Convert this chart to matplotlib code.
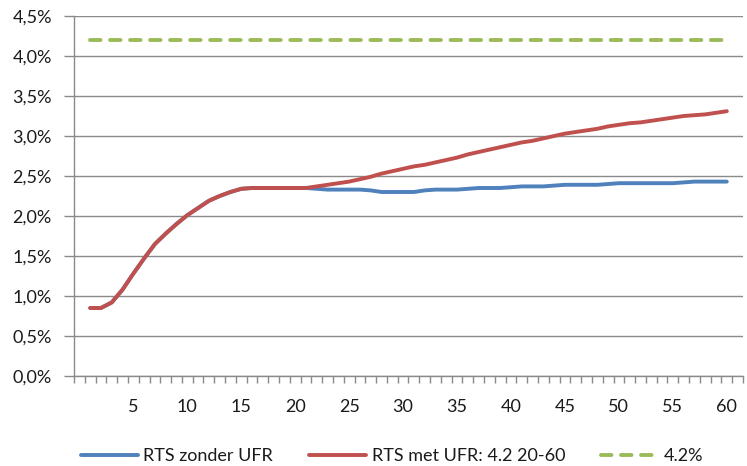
import matplotlib
matplotlib.use("Agg")
import matplotlib.pyplot as plt
from matplotlib.ticker import FuncFormatter, MultipleLocator, FixedLocator

categories = list(range(1, 61))
rts_zonder_ufr = [0.85, 0.85, 0.92, 1.08, 1.28, 1.47, 1.65, 1.78, 1.90, 2.01,
                  2.10, 2.19, 2.25, 2.30, 2.34, 2.35, 2.35, 2.35, 2.35, 2.35,
                  2.35, 2.34, 2.33, 2.33, 2.33, 2.33, 2.32, 2.30, 2.30, 2.30,
                  2.30, 2.32, 2.33, 2.33, 2.33, 2.34, 2.35, 2.35, 2.35, 2.36,
                  2.37, 2.37, 2.37, 2.38, 2.39, 2.39, 2.39, 2.39, 2.40, 2.41,
                  2.41, 2.41, 2.41, 2.41, 2.41, 2.42, 2.43, 2.43, 2.43, 2.43]
rts_met_ufr = [0.85, 0.85, 0.92, 1.08, 1.28, 1.47, 1.65, 1.78, 1.90, 2.01,
               2.10, 2.19, 2.25, 2.30, 2.34, 2.35, 2.35, 2.35, 2.35, 2.35,
               2.35, 2.37, 2.39, 2.41, 2.43, 2.46, 2.49, 2.53, 2.56, 2.59,
               2.62, 2.64, 2.67, 2.70, 2.73, 2.77, 2.80, 2.83, 2.86, 2.89,
               2.92, 2.94, 2.97, 3.00, 3.03, 3.05, 3.07, 3.09, 3.12, 3.14,
               3.16, 3.17, 3.19, 3.21, 3.23, 3.25, 3.26, 3.27, 3.29, 3.31]
ufr_level = [4.2] * 60
x_tick_labels = [5, 10, 15, 20, 25, 30, 35, 40, 45, 50, 55, 60]
series_names = ["RTS zonder UFR", "RTS met UFR: 4.2 20-60", "4.2%"]

plt.rcParams['font.family'] = ['Lato', 'DejaVu Sans']

FS = 13
TXT = '#1a1a1a'
AXC = '#8a8a8a'

fig = plt.figure(figsize=(7.47, 4.66), dpi=100)
ax = fig.add_axes([74/747, 1 - 376/466, (743 - 74)/747, (376 - 16)/466])

ax.plot(categories, rts_zonder_ufr, color='#4F81BD', lw=2.8, solid_capstyle='round', label=series_names[0])
ax.plot(categories, rts_met_ufr, color='#C0504D', lw=2.8, solid_capstyle='round', label=series_names[1])
ax.plot(categories, ufr_level, color='#9BBB59', lw=2.8, dashes=(2.7, 2.45), dash_capstyle='round', label=series_names[2])

ax.set_xlim(-0.5, 61.5)
ax.set_ylim(0, 4.5)
ax.yaxis.set_major_locator(MultipleLocator(0.5))
ax.yaxis.set_major_formatter(FuncFormatter(lambda v, p: f"{v:.1f}%".replace('.', ',')))
ax.grid(axis='y', color=AXC, lw=1.0)
ax.set_axisbelow(True)

# category boundary ticks, labels at category centers
ax.xaxis.set_major_locator(FixedLocator([c - 0.5 for c in range(0, 63)]))
ax.xaxis.set_major_formatter(FuncFormatter(lambda v, p: ""))
ax.xaxis.set_minor_locator(FixedLocator(x_tick_labels))
ax.xaxis.set_minor_formatter(FuncFormatter(lambda v, p: f"{int(round(v))}"))
ax.tick_params(axis='x', which='major', length=5, color=AXC, width=1)
ax.tick_params(axis='x', which='minor', length=0, pad=16.5, labelsize=FS, labelcolor=TXT)
ax.tick_params(axis='y', length=7, color=AXC, width=1, labelsize=FS, labelcolor=TXT, pad=9)

for s in ['top', 'right']:
    ax.spines[s].set_visible(False)
for s in ['left', 'bottom']:
    ax.spines[s].set_color(AXC)
    ax.spines[s].set_linewidth(1.0)

fig.legend(loc='center', bbox_to_anchor=(392/747, 1 - 456/466), ncol=3, frameon=False,
           fontsize=FS, handlelength=3.15, handletextpad=0.3, columnspacing=2.0,
           labelcolor=TXT, borderpad=0.1)

fig.savefig('out.png', dpi=100)
